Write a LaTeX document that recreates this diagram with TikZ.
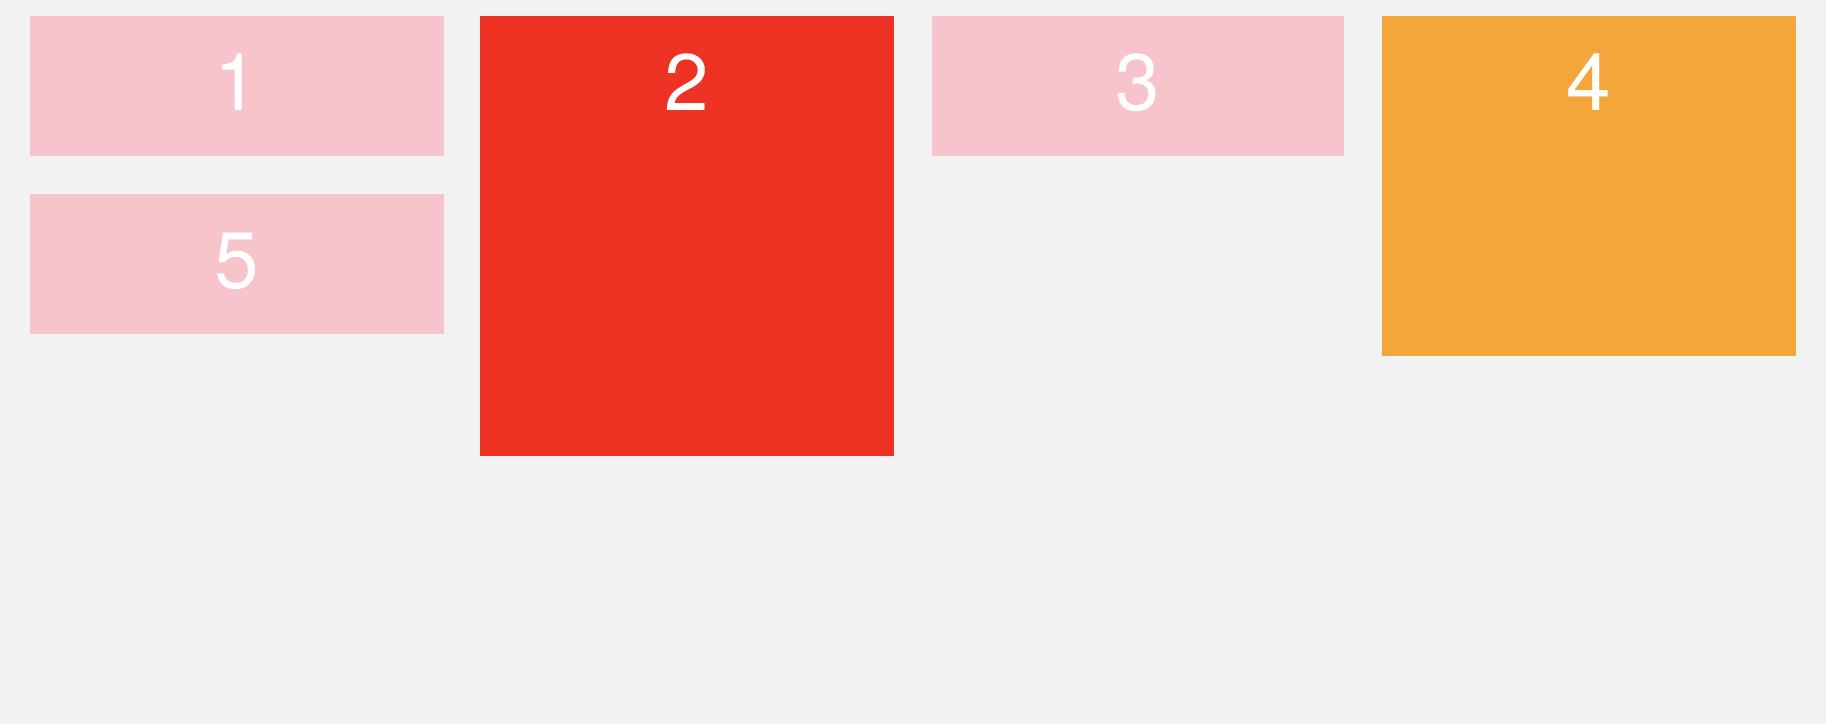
\documentclass[tikz,border=0pt]{standalone}
\usepackage{fontspec}
\setmainfont{TeX Gyre Heros}
\definecolor{bg}{HTML}{F2F2F2}
\definecolor{pinkc}{HTML}{F7C4CB}
\definecolor{redc}{HTML}{EE3224}
\definecolor{orangec}{HTML}{F3A73B}
\begin{document}
\begin{tikzpicture}[x=1pt,y=-1pt,
  cell/.style={draw=none,inner sep=0pt,outer sep=0pt,minimum width=414pt,anchor=north west},
  num/.style={text=white,font=\fontsize{80}{96}\selectfont,anchor=base,inner sep=0pt}]
\fill[bg] (0,0) rectangle (1826,724);
\useasboundingbox (0,0) rectangle (1826,724);
\node[cell,fill=pinkc,minimum height=140pt] (b1) at (30,16) {};
\node[cell,fill=redc,minimum height=440pt] (b2) at (480,16) {};
\node[cell,fill=pinkc,minimum height=140pt,minimum width=412pt] (b3) at (932,16) {};
\node[cell,fill=orangec,minimum height=340pt] (b4) at (1382,16) {};
\node[cell,fill=pinkc,minimum height=140pt] (b5) at (30,194) {};
\foreach \b/\t in {b1/1,b2/2,b3/3,b4/4,b5/5}{
  \node[num] (t\t) at ([yshift=-94pt]\b.north) {\t};
}
\end{tikzpicture}
\end{document}
